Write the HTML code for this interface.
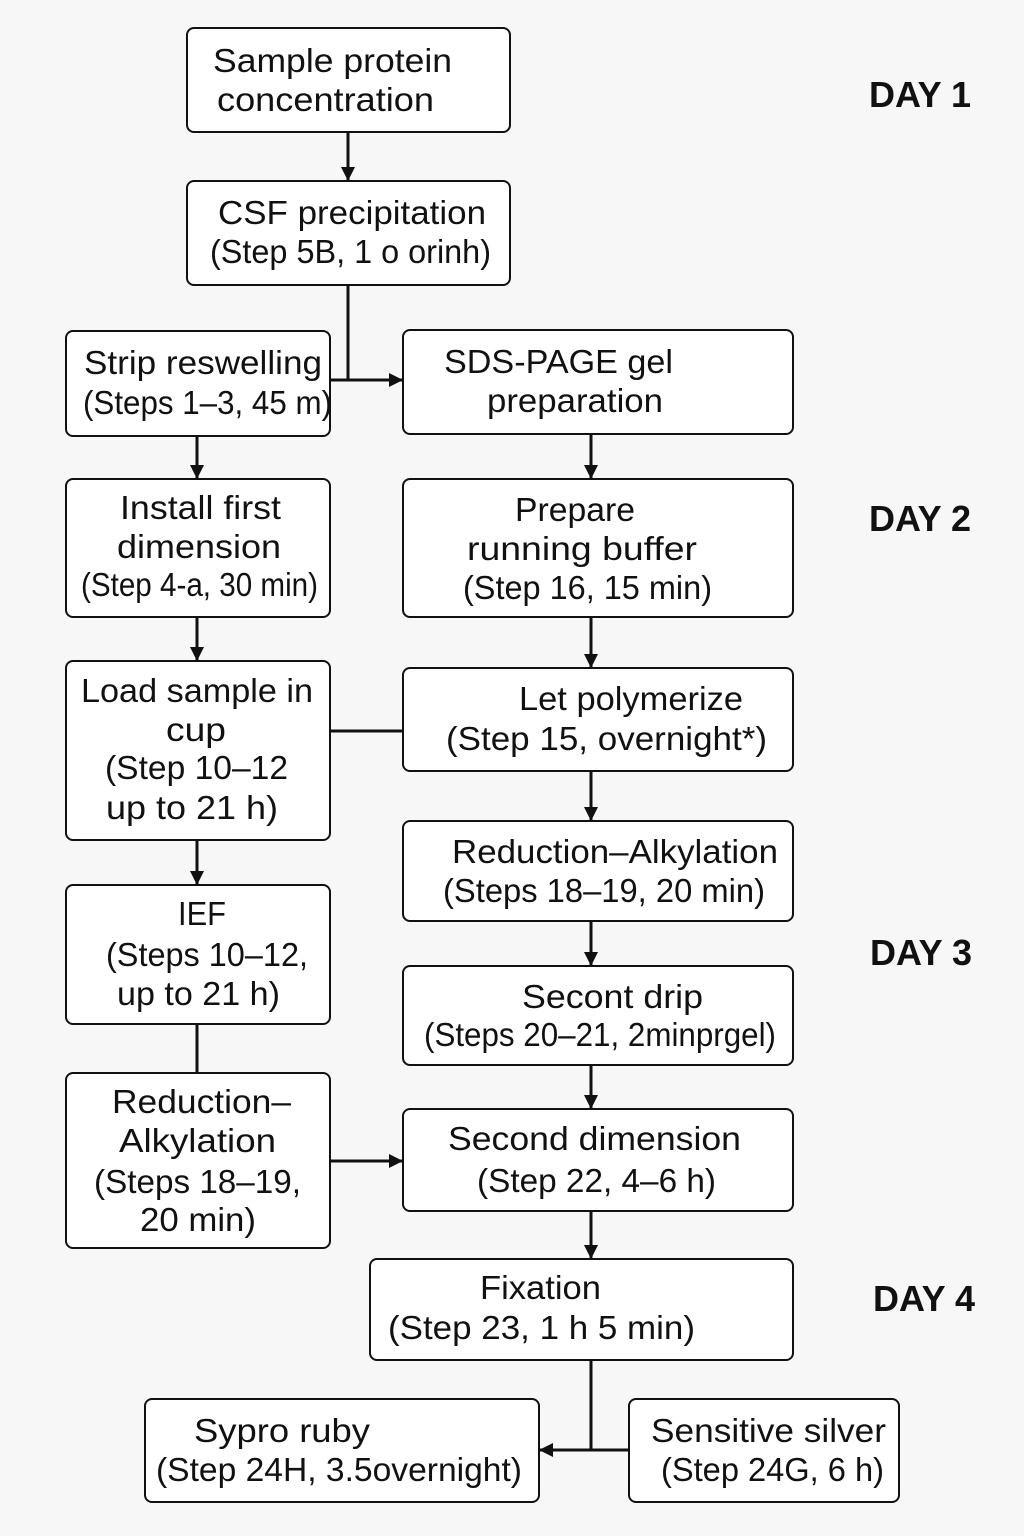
<!DOCTYPE html>
<html><head><meta charset="utf-8"><style>
html,body{margin:0;padding:0;background:#f7f7f7;}
svg{display:block}
text{font-family:"Liberation Sans",sans-serif;font-size:33px;fill:#111}
.d{font-weight:bold;font-size:36px;text-anchor:middle}
rect{fill:#fff;stroke:#111;stroke-width:2}
line,polyline{stroke:#111;stroke-width:3;fill:none}
</style></head><body>
<svg width="1024" height="1536" viewBox="0 0 1024 1536">
<defs><marker id="a" markerWidth="14" markerHeight="14" refX="13" refY="7" orient="auto" markerUnits="userSpaceOnUse"><path d="M0,0L14,7L0,14z" fill="#111"/></marker></defs>
<rect x="187" y="28" width="323" height="104" rx="7"/>
<rect x="187" y="181" width="323" height="104" rx="7"/>
<rect x="66" y="331" width="264" height="105" rx="7"/>
<rect x="403" y="330" width="390" height="104" rx="7"/>
<rect x="66" y="479" width="264" height="138" rx="7"/>
<rect x="403" y="479" width="390" height="138" rx="7"/>
<rect x="66" y="661" width="264" height="179" rx="7"/>
<rect x="403" y="668" width="390" height="103" rx="7"/>
<rect x="403" y="821" width="390" height="100" rx="7"/>
<rect x="66" y="885" width="264" height="139" rx="7"/>
<rect x="403" y="966" width="390" height="99" rx="7"/>
<rect x="66" y="1073" width="264" height="175" rx="7"/>
<rect x="403" y="1109" width="390" height="102" rx="7"/>
<rect x="370" y="1259" width="423" height="101" rx="7"/>
<rect x="145" y="1399" width="394" height="103" rx="7"/>
<rect x="629" y="1399" width="270" height="103" rx="7"/>

<line x1="348" y1="132" x2="348" y2="180" marker-end="url(#a)"/>
<polyline points="348,285 348,380 402,380" marker-end="url(#a)"/>
<line x1="330" y1="380" x2="348" y2="380"/>
<line x1="197" y1="436" x2="197" y2="478" marker-end="url(#a)"/>
<line x1="591" y1="434" x2="591" y2="478" marker-end="url(#a)"/>
<line x1="197" y1="617" x2="197" y2="660" marker-end="url(#a)"/>
<line x1="591" y1="617" x2="591" y2="667" marker-end="url(#a)"/>
<line x1="330" y1="731" x2="403" y2="731"/>
<line x1="591" y1="771" x2="591" y2="820" marker-end="url(#a)"/>
<line x1="197" y1="840" x2="197" y2="884" marker-end="url(#a)"/>
<line x1="591" y1="921" x2="591" y2="965" marker-end="url(#a)"/>
<line x1="197" y1="1024" x2="197" y2="1073"/>
<line x1="591" y1="1065" x2="591" y2="1108" marker-end="url(#a)"/>
<line x1="330" y1="1161" x2="402" y2="1161" marker-end="url(#a)"/>
<line x1="591" y1="1211" x2="591" y2="1258" marker-end="url(#a)"/>
<polyline points="591,1360 591,1450 540,1450" marker-end="url(#a)"/>
<line x1="629" y1="1450" x2="591" y2="1450"/>

<g lengthAdjust="spacingAndGlyphs">
<text x="213" y="72" textLength="239" lengthAdjust="spacingAndGlyphs">Sample protein</text>
<text x="217" y="111" textLength="217" lengthAdjust="spacingAndGlyphs">concentration</text>
<text x="218" y="224" textLength="268" lengthAdjust="spacingAndGlyphs">CSF precipitation</text>
<text x="210" y="263" textLength="281" lengthAdjust="spacingAndGlyphs">(Step 5B, 1 o orinh)</text>
<text x="84" y="374" textLength="238" lengthAdjust="spacingAndGlyphs">Strip reswelling</text>
<text x="83" y="414" textLength="249" lengthAdjust="spacingAndGlyphs">(Steps 1–3, 45 m)</text>
<text x="444" y="373" textLength="229" lengthAdjust="spacingAndGlyphs">SDS-PAGE gel</text>
<text x="487" y="412" textLength="176" lengthAdjust="spacingAndGlyphs">preparation</text>
<text x="120" y="519" textLength="161" lengthAdjust="spacingAndGlyphs">Install first</text>
<text x="117" y="558" textLength="164" lengthAdjust="spacingAndGlyphs">dimension</text>
<text x="81" y="596" textLength="237" lengthAdjust="spacingAndGlyphs">(Step 4-a, 30 min)</text>
<text x="515" y="521" textLength="120" lengthAdjust="spacingAndGlyphs">Prepare</text>
<text x="467" y="560" textLength="230" lengthAdjust="spacingAndGlyphs">running buffer</text>
<text x="463" y="599" textLength="249" lengthAdjust="spacingAndGlyphs">(Step 16, 15 min)</text>
<text x="81" y="702" textLength="232" lengthAdjust="spacingAndGlyphs">Load sample in</text>
<text x="166" y="741" textLength="60" lengthAdjust="spacingAndGlyphs">cup</text>
<text x="105" y="779" textLength="183" lengthAdjust="spacingAndGlyphs">(Step 10–12</text>
<text x="106" y="819" textLength="172" lengthAdjust="spacingAndGlyphs">up to 21 h)</text>
<text x="519" y="710" textLength="224" lengthAdjust="spacingAndGlyphs">Let polymerize</text>
<text x="446" y="750" textLength="321" lengthAdjust="spacingAndGlyphs">(Step 15, overnight*)</text>
<text x="452" y="863" textLength="326" lengthAdjust="spacingAndGlyphs">Reduction–Alkylation</text>
<text x="443" y="902" textLength="322" lengthAdjust="spacingAndGlyphs">(Steps 18–19, 20 min)</text>
<text x="178" y="925" textLength="48" lengthAdjust="spacingAndGlyphs">IEF</text>
<text x="106" y="966" textLength="202" lengthAdjust="spacingAndGlyphs">(Steps 10–12,</text>
<text x="117" y="1005" textLength="163" lengthAdjust="spacingAndGlyphs">up to 21 h)</text>
<text x="522" y="1008" textLength="181" lengthAdjust="spacingAndGlyphs">Secont drip</text>
<text x="424" y="1046" textLength="352" lengthAdjust="spacingAndGlyphs">(Steps 20–21, 2minprgel)</text>
<text x="112" y="1113" textLength="179" lengthAdjust="spacingAndGlyphs">Reduction–</text>
<text x="119" y="1152" textLength="157" lengthAdjust="spacingAndGlyphs">Alkylation</text>
<text x="94" y="1193" textLength="207" lengthAdjust="spacingAndGlyphs">(Steps 18–19,</text>
<text x="140" y="1231" textLength="116" lengthAdjust="spacingAndGlyphs">20 min)</text>
<text x="448" y="1150" textLength="293" lengthAdjust="spacingAndGlyphs">Second dimension</text>
<text x="477" y="1192" textLength="239" lengthAdjust="spacingAndGlyphs">(Step 22, 4–6 h)</text>
<text x="480" y="1299" textLength="121" lengthAdjust="spacingAndGlyphs">Fixation</text>
<text x="388" y="1339" textLength="307" lengthAdjust="spacingAndGlyphs">(Step 23, 1 h  5 min)</text>
<text x="194" y="1442" textLength="176" lengthAdjust="spacingAndGlyphs">Sypro ruby</text>
<text x="156" y="1481" textLength="366" lengthAdjust="spacingAndGlyphs">(Step 24H, 3.5overnight)</text>
<text x="651" y="1442" textLength="235" lengthAdjust="spacingAndGlyphs">Sensitive silver</text>
<text x="661" y="1481" textLength="223" lengthAdjust="spacingAndGlyphs">(Step 24G, 6 h)</text>
</g>

<text class="d" x="920" y="107">DAY 1</text>
<text class="d" x="920" y="531">DAY 2</text>
<text class="d" x="921" y="965">DAY 3</text>
<text class="d" x="924" y="1311">DAY 4</text>
</svg>
</body></html>
